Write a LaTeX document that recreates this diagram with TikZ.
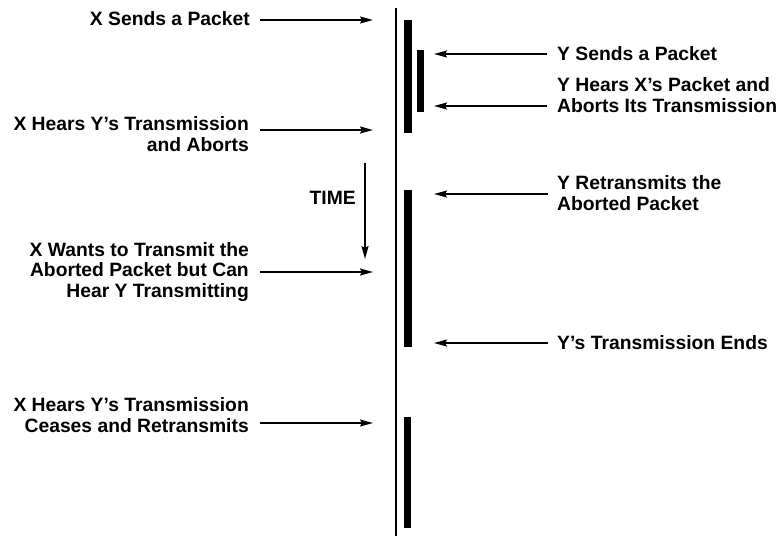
\documentclass[tikz,border=0pt]{standalone}
\usepackage{fontspec}
\setmainfont{Liberation Sans}
\usetikzlibrary{arrows.meta}
\begin{document}
\begin{tikzpicture}[x=1pt,y=-1pt,
  lbl/.style={inner sep=0pt,font=\bfseries\fontsize{19.3}{20.5}\selectfont},
  lleft/.style={lbl,anchor=east,align=right},
  lright/.style={lbl,anchor=west,align=left},
  arr/.style={line width=1.8pt,-{Stealth[length=13pt,width=7pt,inset=2pt]}},
  bar/.style={fill=black,draw=none}]
\useasboundingbox (0,0) rectangle (783,536);
% time axis
\coordinate (axtop) at (396,8);
\coordinate (axbot) at (396,536);
\draw[line width=1.6pt] (axtop) -- (axbot);
% transmissions
\fill[bar] (404,20) rectangle (411.5,133);
\fill[bar] (417,50) rectangle (424,112);
\fill[bar] (404,190) rectangle (411.5,347);
\fill[bar] (403.5,417) rectangle (411,528);
% left labels
\node[lleft] (xs) at (250,19) {X Sends a Packet};
\node[lleft] (xh) at (249,134) {X Hears Y's Transmission\\and Aborts};
\node[lleft] (xw) at (249,272) {X Wants to Transmit the\\Aborted Packet but Can\\Hear Y Transmitting};
\node[lleft] (xc) at (249,415) {X Hears Y's Transmission\\Ceases and Retransmits};
% right labels
\node[lright] (ys) at (557,54) {Y Sends a Packet};
\node[lright] (yh) at (557,95) {Y Hears X's Packet and\\Aborts Its Transmission};
\node[lright] (yr) at (557,193) {Y Retransmits the\\Aborted Packet};
\node[lright] (ye) at (557,343) {Y's Transmission Ends};
% TIME
\node[lbl,anchor=east] (time) at (356,198) {TIME};
\coordinate (t1) at (365,163);
\coordinate (t2) at (365,259);
\draw[arr] (t1) -- (t2);
% arrows left
\coordinate (a1s) at (260,20); \coordinate (a1e) at (373,20);
\coordinate (a2s) at (260,130); \coordinate (a2e) at (373,130);
\coordinate (a3s) at (260,272); \coordinate (a3e) at (373,272);
\coordinate (a4s) at (260,423); \coordinate (a4e) at (373,423);
\draw[arr] (a1s) -- (a1e);
\draw[arr] (a2s) -- (a2e);
\draw[arr] (a3s) -- (a3e);
\draw[arr] (a4s) -- (a4e);
% arrows right
\coordinate (b1s) at (547,54); \coordinate (b1e) at (434,54);
\coordinate (b2s) at (547,106); \coordinate (b2e) at (434,106);
\coordinate (b3s) at (548,194); \coordinate (b3e) at (434,194);
\coordinate (b4s) at (548,343); \coordinate (b4e) at (434,343);
\draw[arr] (b1s) -- (b1e);
\draw[arr] (b2s) -- (b2e);
\draw[arr] (b3s) -- (b3e);
\draw[arr] (b4s) -- (b4e);
\end{tikzpicture}
\end{document}
